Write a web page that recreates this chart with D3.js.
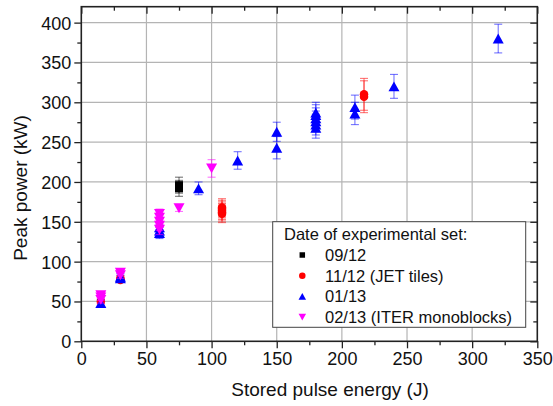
<!DOCTYPE html>
<html><head><meta charset="utf-8">
<script src="https://cdn.jsdelivr.net/npm/d3@7"></script>
<style>
html,body{margin:0;padding:0;background:#fff;}
svg{display:block;font-family:"Liberation Sans",Arial,sans-serif;}
</style></head>
<body>
<svg id="chart" width="553" height="406"></svg>
<script>
// ---- data ----
const seriesNames = ["09/12", "11/12 (JET tiles)", "01/13", "02/13 (ITER monoblocks)"];
const seriesColors = ["#000000", "#ff0000", "#0000ff", "#ff00ff"];

const sq_x = [75, 75];
const sq_y = [192, 196];
const sq_err = [10, 10];

const ci_x = [15, 30, 30, 108, 108, 108, 108, 108, 217, 217];
const ci_y = [50, 77, 79, 160, 162, 164, 166, 168, 307, 310];
const ci_err = [3, 3, 3, 11, 11, 11, 11, 11, 20, 20];

const up_x = [15, 30, 30, 60, 60, 60, 90, 120, 150, 150, 180, 180, 180, 180, 180, 180, 210, 210, 240, 320];
const up_y = [48, 79, 81, 136, 139, 143, 192, 227, 243, 263, 268, 272, 276, 280, 284, 287, 286, 294, 320, 380];
const up_err = [4, 4, 4, 7, 7, 7, 8, 11, 14, 12, 13, 13, 13, 13, 13, 13, 14, 15, 15, 18];

const dn_x = [15, 15, 15, 30, 30, 60, 60, 60, 60, 60, 75, 100];
const dn_y = [52, 55, 58, 83, 86, 140, 145, 150, 155, 160, 167, 217];
const dn_err = [4, 4, 4, 4, 4, 6, 6, 6, 6, 6, 4, 11];

const xMajor = [0, 50, 100, 150, 200, 250, 300, 350];
const yMajor = [0, 50, 100, 150, 200, 250, 300, 350, 400];
const xMinor = [25, 75, 125, 175, 225, 275, 325];
const yMinor = [25, 75, 125, 175, 225, 275, 325, 375];

const xTitle = "Stored pulse energy (J)";
const yTitle = "Peak power (kW)";
const legendTitle = "Date of experimental set:";

// ---- layout ----
const svg = d3.select("#chart");
const L = 81.3, R = 537.3, T = 6.7, B = 341.3;
const x = d3.scaleLinear().domain([0, 350]).range([L, R]);
const y = d3.scaleLinear().domain([0, 420]).range([B, T]);

// grid
const grid = svg.append("g");
grid.selectAll("line.gx").data(xMajor.filter(v => v > 0 && v < 350)).join("line")
  .attr("x1", d => x(d)).attr("x2", d => x(d)).attr("y1", T).attr("y2", B)
  .attr("stroke", "#b4b4b4").attr("stroke-width", 1.2);
grid.selectAll("line.gy").data(yMajor.filter(v => v > 0)).join("line")
  .attr("x1", L).attr("x2", R).attr("y1", d => y(d)).attr("y2", d => y(d))
  .attr("stroke", "#b4b4b4").attr("stroke-width", 1.2);

// axes
function styleAxis(g) {
  g.select(".domain").remove();
  g.selectAll("line").attr("stroke", "#222").attr("stroke-width", 1.3);
  g.selectAll("text").attr("font-size", 18).attr("fill", "#111")
    .attr("font-family", "'Liberation Sans', Arial, sans-serif");
}
const gb = svg.append("g").attr("transform", `translate(0,${B})`)
  .call(d3.axisBottom(x).tickValues(xMajor).tickFormat(d3.format("d")).tickSize(7).tickPadding(4));
styleAxis(gb);
const gbm = svg.append("g").attr("transform", `translate(0,${B})`)
  .call(d3.axisBottom(x).tickValues(xMinor).tickFormat("").tickSize(4));
styleAxis(gbm);
const gl = svg.append("g").attr("transform", `translate(${L},0)`)
  .call(d3.axisLeft(y).tickValues(yMajor).tickFormat(d3.format("d")).tickSize(7).tickPadding(3));
styleAxis(gl);
gl.selectAll("text").attr("dy", "0.36em");
const glm = svg.append("g").attr("transform", `translate(${L},0)`)
  .call(d3.axisLeft(y).tickValues(yMinor).tickFormat("").tickSize(4));
styleAxis(glm);
const gt = svg.append("g").attr("transform", `translate(0,${T})`)
  .call(d3.axisTop(x).tickValues(xMajor).tickFormat("").tickSize(-7));
styleAxis(gt);
const gtm = svg.append("g").attr("transform", `translate(0,${T})`)
  .call(d3.axisTop(x).tickValues(xMinor).tickFormat("").tickSize(-4));
styleAxis(gtm);
const gr = svg.append("g").attr("transform", `translate(${R},0)`)
  .call(d3.axisRight(y).tickValues(yMajor).tickFormat("").tickSize(-7));
styleAxis(gr);
const grm = svg.append("g").attr("transform", `translate(${R},0)`)
  .call(d3.axisRight(y).tickValues(yMinor).tickFormat("").tickSize(-4));
styleAxis(grm);

// frame
svg.append("rect").attr("x", L).attr("y", T).attr("width", R - L).attr("height", B - T)
  .attr("fill", "none").attr("stroke", "#222").attr("stroke-width", 1.6);

// titles
svg.append("text").attr("x", 330).attr("y", 396).attr("text-anchor", "middle")
  .attr("font-size", 19).attr("fill", "#111").text(xTitle);
svg.append("text").attr("transform", "translate(27,188) rotate(-90)").attr("text-anchor", "middle")
  .attr("font-size", 19).attr("fill", "#111").text(yTitle);

// markers
function symPath(kind, s) {
  if (kind === "square") return `M${-s/2},${-s/2}h${s}v${s}h${-s}Z`;
  if (kind === "circle") { const r = s/2; return `M${-r},0a${r},${r} 0 1,0 ${2*r},0a${r},${r} 0 1,0 ${-2*r},0Z`; }
  const w = s, h = s * 0.9;
  if (kind === "up") return `M0,${-h/2}L${w/2},${h/2}L${-w/2},${h/2}Z`;
  return `M0,${h/2}L${w/2},${-h/2}L${-w/2},${-h/2}Z`;
}

const series = [
  {xs: sq_x, ys: sq_y, es: sq_err, kind: "square", size: 8, color: seriesColors[0]},
  {xs: ci_x, ys: ci_y, es: ci_err, kind: "circle", size: 8.5, color: seriesColors[1]},
  {xs: up_x, ys: up_y, es: up_err, kind: "up", size: 11, color: seriesColors[2]},
  {xs: dn_x, ys: dn_y, es: dn_err, kind: "down", size: 11, color: seriesColors[3]}
];

const plot = svg.append("g");
series.forEach(s => {
  const pts = s.xs.map((v, i) => ({x: v, y: s.ys[i], e: s.es[i]}));
  const g = plot.append("g");
  const eb = g.append("g").attr("stroke", s.color).attr("stroke-opacity", 0.55).attr("stroke-width", 1.1);
  pts.forEach(p => {
    const cx = x(p.x), y1 = y(p.y + p.e), y2 = y(p.y - p.e);
    eb.append("line").attr("x1", cx).attr("x2", cx).attr("y1", y1).attr("y2", y2);
    eb.append("line").attr("x1", cx - 4).attr("x2", cx + 4).attr("y1", y1).attr("y2", y1);
    eb.append("line").attr("x1", cx - 4).attr("x2", cx + 4).attr("y1", y2).attr("y2", y2);
  });
  g.selectAll("path").data(pts).join("path")
    .attr("transform", d => `translate(${x(d.x)},${y(d.y)})`)
    .attr("d", symPath(s.kind, s.size)).attr("fill", s.color);
});

// legend
const lg = svg.append("g");
lg.append("rect").attr("x", 272.7).attr("y", 221.7).attr("width", 253).attr("height", 105.6)
  .attr("fill", "#fff").attr("stroke", "#444").attr("stroke-width", 1);
lg.append("text").attr("x", 284).attr("y", 240).attr("font-size", 16.5).attr("fill", "#111").text(legendTitle);
const legKinds = ["square", "circle", "up", "down"];
const legSizes = [5.5, 6.5, 7.5, 7.5];
seriesNames.forEach((nm, i) => {
  const yy = 255 + i * 20.7;
  lg.append("path").attr("transform", `translate(302.3,${yy})`)
    .attr("d", symPath(legKinds[i], legSizes[i])).attr("fill", seriesColors[i]);
  lg.append("text").attr("x", 325).attr("y", yy + 6).attr("font-size", 16.5).attr("fill", "#111").text(nm);
});
</script>
</body></html>
